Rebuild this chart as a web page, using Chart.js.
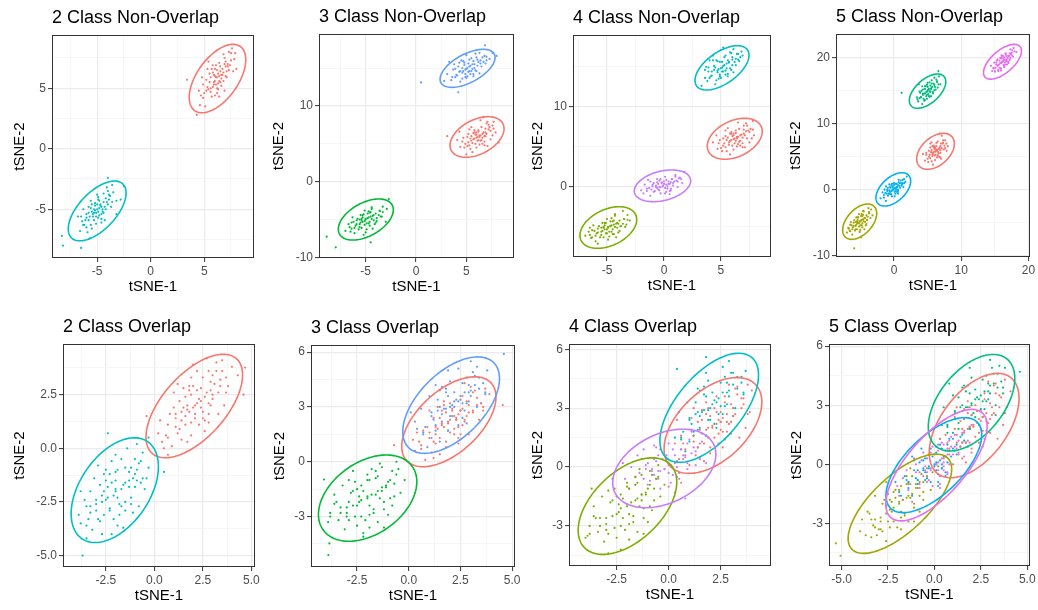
<!DOCTYPE html>
<html lang="en">
<head>
<meta charset="UTF-8">
<title>tSNE class separation</title>
<script src="https://cdn.jsdelivr.net/npm/chart.js"></script>
<style>
  html, body { margin: 0; padding: 0; background: #fff; width: 1038px; height: 610px; overflow: hidden; position: relative; }
  canvas { position: absolute; }
</style>
</head>
<body>
<script>
// ggplot hue colours
const RED = '#F8766D', CYAN = '#00BFC4', GREEN3 = '#00BA38', BLUE3 = '#619CFF';
const OLIVE4 = '#7CAE00', PURPLE4 = '#C77CFF';
const OLIVE5 = '#A3A500', GREEN5 = '#00BF7D', BLUE5 = '#00B0F6', PINK5 = '#E76BF3';
const FONT = '"Liberation Sans", Arial, sans-serif';

// ---- axis ranges [xmin, xmax, ymin, ymax]
const rngN2 = [-9.22, 9.65, -9.03, 9.40];
const rngN3 = [-9.63, 9.73, -10.07, 19.49];
const rngN4 = [-7.98, 9.39, -8.87, 18.98];
const rngN5 = [-8.62, 20.22, -10.21, 23.63];
const rngO2 = [-4.71, 5.19, -5.53, 4.86];
const rngO3 = [-4.73, 5.14, -5.76, 6.39];
const rngO4 = [-4.79, 4.92, -5.04, 6.27];
const rngO5 = [-5.68, 5.15, -5.16, 6.11];

// ---- tick values and labels
const ticksA = [-5, 0, 5], labelsA = ['-5', '0', '5'];
const ticksY2 = [-10, 0, 10], labelsY2 = ['-10', '0', '10'];
const ticksY3 = [0, 10], labelsY3 = ['0', '10'];
const ticksX4 = [0, 10, 20], labelsX4 = ['0', '10', '20'];
const ticksY4 = [-10, 0, 10, 20], labelsY4 = ['-10', '0', '10', '20'];
const ticksX5 = [-2.5, 0, 2.5, 5], labelsX5 = ['-2.5', '0.0', '2.5', '5.0'];
const ticksY5 = [-5, -2.5, 0, 2.5], labelsY5 = ['-5.0', '-2.5', '0.0', '2.5'];
const ticksY6 = [-3, 0, 3, 6], labelsY6 = ['-3', '0', '3', '6'];
const ticksX7 = [-2.5, 0, 2.5], labelsX7 = ['-2.5', '0.0', '2.5'];
const ticksX8 = [-5, -2.5, 0, 2.5, 5], labelsX8 = ['-5.0', '-2.5', '0.0', '2.5', '5.0'];

// ---- ellipses per class: [cx, cy, half-width x, half-height y, tilt]
const ellN2 = [[6.24, 5.80, 2.64, 2.83, 0.55], [-5.0, -5.14, 2.70, 2.47, 0.6]];
const ellN3 = [[6.06, 5.90, 2.68, 2.68, 0.41], [-4.98, -4.99, 2.73, 2.71, 0.47], [5.12, 14.96, 2.73, 2.51, 0.57]];
const ellN4 = [[6.21, 5.96, 2.41, 2.57, 0.36], [-4.88, -5.17, 2.49, 2.61, 0.38], [5.09, 14.86, 2.37, 2.78, 0.57], [-0.13, 0.06, 2.47, 1.99, 0.32]];
const ellN5 = [[6.17, 5.83, 2.8, 2.73, 0.42], [-5.1, -4.85, 2.53, 2.68, 0.47], [4.99, 14.96, 2.71, 2.6, 0.55], [-0.1, 0.05, 2.58, 2.53, 0.5], [16.13, 19.42, 2.82, 2.64, 0.62]];
const ellO2 = [[2.06, 1.97, 2.49, 2.41, 0.6], [-2.04, -1.95, 2.25, 2.44, 0.45]];
const ellO3 = [[1.94, 2.19, 2.28, 2.46, 0.55], [-1.99, -1.99, 2.38, 2.36, 0.38], [2.05, 3.1, 2.34, 2.64, 0.55]];
const ellO4 = [[2.13, 2.12, 2.35, 2.44, 0.49], [-1.98, -1.99, 2.37, 2.46, 0.5], [1.95, 3.02, 2.37, 2.78, 0.6], [-0.21, -0.07, 2.48, 2.0, 0.36]];
const ellO5 = [[2.14, 1.97, 2.42, 2.65, 0.52], [-1.86, -2.0, 2.79, 2.52, 0.7], [2.0, 3.13, 2.33, 2.45, 0.5], [-0.03, -0.04, 2.58, 2.41, 0.64], [0.11, -0.04, 2.73, 2.83, 0.7]];

// ---- points: 2 class non-overlap
const n2Red = [[6.2,5.9],[6.5,6.4],[5.8,5.1],[7.0,6.8],[5.4,4.9],[6.8,5.6],[7.5,7.9],[4.9,4.2],[6.0,6.6],[6.6,5.2],[5.2,5.7],[7.3,6.5],[6.4,7.1],[5.7,4.3],[7.8,7.4],[4.6,3.6],[6.9,7.5],[5.9,5.5],[6.3,4.9],[5.5,6.2],[7.1,5.9],[6.1,6.9],[4.9,5.3],[7.6,8.3],[5.1,3.5],[6.7,6.1],[8.0,6.6],[5.6,4.7],[6.4,5.6],[7.2,7.0],[4.5,4.8],[3.4,5.7],[4.3,2.8],[6.0,4.4],[7.9,7.9],[5.3,6.6],
  [6.3,6.2],[6.6,5.8],[5.9,6.1],[6.8,6.3],[6.1,5.3],[6.5,6.8],[5.6,5.9],[7.0,7.2],[6.2,5.0],[5.8,6.9],[7.4,6.9],[6.9,4.8],[5.0,4.6],[7.7,6.4],[6.4,4.3],[5.4,7.2],[4.8,5.9],[7.3,8.0],
  [6.0,5.6],[6.4,6.0],[6.7,6.6],[5.9,5.3],[6.2,6.5],[6.6,6.1],[5.6,5.0],[7.1,6.4],[6.3,5.4],[5.5,5.5],[6.9,7.0],[6.1,5.9],[5.8,6.3],[7.2,6.8],[6.5,5.5],[5.2,4.8],[7.5,7.3],[6.0,6.0],[4.7,4.4],[6.8,7.8],[5.3,5.1],[7.0,6.0],[6.2,4.6],[5.7,6.6]];
const n2Cyan = [[-5.0,-5.0],[-4.6,-4.8],[-5.4,-5.6],[-4.2,-4.1],[-5.8,-5.9],[-4.8,-5.5],[-5.2,-4.5],[-3.8,-3.9],[-6.2,-6.3],[-4.5,-5.2],[-5.6,-4.9],[-4.0,-4.6],[-6.0,-5.4],[-3.5,-3.6],[-6.6,-6.8],[-5.1,-6.2],[-4.4,-3.7],[-5.5,-6.6],[-3.2,-4.3],[-6.8,-5.6],[-4.9,-4.2],[-5.9,-6.9],[-3.6,-3.0],[-4.3,-5.9],[-6.3,-5.0],[-5.3,-5.3],[-4.7,-4.6],[-8.3,-7.2],[-8.2,-8.0],[-6.5,-8.2],[-4.0,-2.4],[-2.5,-3.1],[-2.8,-4.2],[-3.2,-5.4],[-5.7,-7.4],[-4.1,-3.2],
  [-5.1,-5.3],[-4.8,-4.9],[-5.3,-5.0],[-4.6,-5.4],[-5.5,-5.2],[-4.9,-5.7],[-5.2,-4.7],[-4.4,-4.4],[-5.8,-5.3],[-4.2,-5.0],[-6.1,-5.9],[-3.9,-4.2],[-5.6,-4.3],[-4.6,-6.1],[-6.4,-6.0],[-3.7,-4.8],[-5.0,-3.8],[-6.0,-6.5],
  [-5.2,-5.1],[-4.9,-5.2],[-4.7,-4.7],[-5.4,-5.4],[-5.0,-4.6],[-4.5,-5.0],[-5.7,-5.6],[-4.3,-4.8],[-5.3,-5.9],[-4.8,-4.3],[-6.0,-5.7],[-4.1,-4.4],[-5.5,-4.6],[-4.6,-5.8],[-6.3,-6.3],[-3.9,-3.8],[-5.1,-5.6],[-4.4,-5.3],[-5.8,-4.8],[-4.9,-4.0],[-6.5,-5.6],[-3.6,-4.4],[-5.6,-6.3],[-4.0,-3.5]];

// ---- 3 class non-overlap
const n3Red = [[6.1,5.9],[6.6,6.3],[5.5,5.4],[7.2,6.9],[4.9,5.0],[6.8,5.3],[5.8,6.8],[7.6,7.4],[4.4,4.6],[6.3,4.9],[5.2,6.3],[7.0,7.7],[5.9,5.0],[6.5,7.2],[4.7,5.8],[7.9,6.5],[5.4,4.3],[6.9,6.0],[6.0,6.5],[5.1,4.7],[7.4,5.6],[4.1,5.5],[6.4,8.1],[5.6,3.9],[7.7,7.9],[3.1,6.0],[8.2,5.2],[6.2,5.5],[5.0,3.6],[7.1,4.7],[4.3,6.6],[6.7,8.5],
  [6.3,6.1],[5.8,5.7],[6.6,5.8],[5.5,6.0],[6.9,6.5],[6.0,6.2],[5.2,5.2],[7.3,7.2],[6.4,5.4],[5.7,6.4],[7.6,6.1],[4.8,4.5],[6.2,6.8],[6.8,4.8],[5.3,6.9],[7.1,7.9],
  [6.0,5.8],[6.4,6.1],[5.7,5.6],[6.7,6.5],[5.9,6.2],[6.5,5.5],[5.4,5.7],[7.0,6.3],[6.2,6.6],[5.6,5.1],[6.9,7.0],[6.1,5.4],[5.1,5.9],[7.4,6.7],[6.3,5.9],[5.8,6.5],[6.6,5.0],[5.3,4.8],[7.2,7.5],[6.8,6.0],[4.6,5.3],[7.7,7.0],[6.0,4.5],[5.5,7.2]];
const n3Green = [[-5.0,-5.0],[-4.5,-4.6],[-5.5,-5.4],[-4.0,-4.2],[-6.0,-5.8],[-4.7,-5.5],[-5.3,-4.4],[-3.6,-3.9],[-6.4,-6.2],[-4.2,-5.1],[-5.8,-4.9],[-3.3,-3.3],[-6.7,-5.6],[-4.9,-6.3],[-5.1,-3.8],[-3.9,-5.2],[-6.1,-6.8],[-4.4,-3.6],[-5.6,-6.0],[-2.9,-3.6],[-7.0,-6.5],[-4.6,-4.1],[-5.4,-5.1],[-3.5,-4.6],[-6.3,-4.7],[-8.87,-7.26],[-7.97,-8.66],[-2.7,-2.3],[-4.5,-8.0],[-5.2,-7.0],[-3.0,-5.3],
  [-5.1,-5.2],[-4.8,-4.8],[-5.3,-4.7],[-4.6,-5.3],[-5.6,-5.6],[-4.3,-4.5],[-5.9,-5.1],[-4.1,-5.6],[-5.4,-6.1],[-4.7,-3.9],[-6.2,-5.3],[-3.7,-4.4],[-5.0,-6.7],[-4.4,-3.4],[-6.5,-6.6],[-3.3,-4.0],
  [-5.0,-4.9],[-4.7,-4.7],[-5.3,-5.3],[-4.4,-4.9],[-5.6,-5.0],[-4.9,-5.5],[-5.2,-4.3],[-4.2,-4.4],[-5.9,-5.6],[-4.6,-5.8],[-5.4,-4.9],[-3.9,-4.8],[-6.1,-6.1],[-4.8,-4.2],[-5.7,-6.3],[-3.6,-3.8],[-5.1,-5.7],[-4.5,-4.0],[-6.4,-5.4],[-4.0,-5.4],[-5.5,-4.4],[-3.4,-4.6],[-6.6,-6.0],[-4.3,-6.2]];
const n3Blue = [[5.1,15.0],[5.6,15.5],[4.6,14.4],[6.2,15.8],[4.0,14.1],[5.9,14.7],[6.8,16.6],[3.5,13.4],[5.3,16.1],[4.8,15.4],[6.5,15.2],[4.2,15.2],[5.7,13.9],[3.1,14.2],[7.3,16.2],[4.4,13.2],[5.0,16.7],[6.0,16.4],[3.8,15.5],[5.4,14.2],[6.9,15.6],[4.9,13.8],[2.8,13.3],[7.6,17.0],[5.8,15.0],[4.5,16.0],[0.5,13.1],[4.2,11.8],[6.85,18.0],[8.0,16.6],[3.3,15.8],[6.3,14.3],
  [5.3,15.2],[4.9,14.8],[5.7,15.9],[4.6,15.0],[6.1,15.3],[5.2,14.5],[4.3,14.5],[6.4,16.0],[5.5,14.6],[4.7,15.9],[6.7,15.8],[3.9,13.8],[5.9,16.9],[5.0,13.7],[7.0,16.5],[3.7,14.8],
  [5.0,14.9],[5.4,15.3],[4.7,14.6],[5.8,15.5],[5.2,15.6],[4.9,14.2],[6.1,16.1],[4.4,14.6],[5.6,14.9],[4.8,15.7],[6.4,15.6],[5.3,14.6],[4.1,14.0],[6.6,16.4],[5.5,16.3],[4.6,13.6],[6.0,14.6],[3.9,14.9],[7.0,16.0],[5.1,13.9],[4.3,15.7],[6.3,17.0],[3.6,13.8],[5.7,14.2]];

// ---- 4 class non-overlap
const n4Red = [[6.2,6.0],[6.7,6.4],[5.7,5.5],[7.2,6.9],[5.2,5.1],[6.9,5.4],[5.9,6.8],[7.6,7.2],[4.7,4.7],[6.4,5.0],[5.4,6.3],[7.0,7.6],[6.0,5.1],[6.6,7.2],[4.9,5.8],[7.9,6.4],[5.5,4.4],[7.3,6.0],[6.1,6.6],[5.1,4.4],[7.5,5.5],[4.3,5.5],[6.5,8.0],[5.8,4.0],[7.8,8.2],[6.3,5.7],[7.1,4.9],[4.6,6.4],
  [6.4,6.2],[5.9,5.8],[6.7,5.7],[5.6,6.1],[7.0,6.6],[6.1,6.4],[5.3,5.4],[7.4,7.0],[6.5,5.3],[5.8,6.6],[7.7,6.0],[5.0,4.8],[6.3,7.0],[6.9,4.9],[5.4,7.0],[7.2,7.9],
  [6.1,5.9],[6.5,6.2],[5.8,5.7],[6.8,6.5],[6.0,6.3],[6.6,5.6],[5.5,5.8],[7.1,6.4],[6.3,6.7],[5.7,5.2],[7.0,7.1],[6.2,5.4],[5.2,6.0],[7.5,6.8],[6.4,6.0],[5.9,6.6],[6.7,5.1],[5.4,4.9],[7.3,7.6],[6.9,6.1],[4.8,5.4],[7.8,7.1],[6.1,4.6],[5.6,7.3]];
const n4Olive = [[-4.9,-5.2],[-4.4,-4.8],[-5.4,-5.6],[-3.9,-4.3],[-5.9,-5.9],[-4.6,-5.7],[-5.2,-4.6],[-3.5,-4.1],[-6.3,-6.4],[-4.1,-5.2],[-5.7,-5.0],[-3.2,-3.6],[-6.6,-5.7],[-4.8,-6.3],[-5.0,-4.1],[-3.8,-5.0],[-6.0,-6.9],[-4.3,-3.7],[-5.5,-6.1],[-3.0,-4.3],[-6.9,-6.2],[-4.5,-4.4],[-5.3,-5.2],[-3.6,-3.1],[-6.2,-4.9],[-4.7,-5.0],[-5.1,-5.9],[-4.0,-4.7],[-5.8,-7.2],[-3.4,-5.1],[-6.5,-5.2],[-4.4,-6.0],
  [-5.0,-5.4],[-4.7,-5.0],[-5.2,-4.9],[-4.5,-5.4],[-5.5,-5.7],[-4.2,-4.7],[-5.8,-5.3],[-4.0,-5.8],[-5.3,-6.4],[-4.6,-4.0],[-6.1,-5.6],[-3.6,-4.7],[-4.9,-6.7],[-4.3,-3.5],[-6.4,-6.5],[-3.2,-4.2],
  [-4.9,-5.1],[-4.6,-4.9],[-5.2,-5.4],[-4.3,-5.1],[-5.5,-5.2],[-4.8,-5.7],[-5.1,-4.6],[-4.1,-4.6],[-5.8,-5.8],[-4.5,-6.0],[-5.3,-5.1],[-3.8,-5.0],[-6.0,-6.2],[-4.7,-4.4],[-5.6,-6.4],[-3.5,-4.1],[-5.0,-5.9],[-4.4,-4.3],[-6.3,-5.5],[-3.9,-5.6],[-5.4,-4.6],[-3.3,-4.8],[-6.5,-6.1],[-4.2,-6.4]];
const n4Cyan = [[5.1,14.9],[5.5,15.4],[4.7,14.3],[6.0,15.9],[4.2,13.9],[5.8,14.8],[6.4,16.6],[3.8,13.2],[5.3,16.2],[4.9,15.6],[6.3,15.2],[4.4,15.1],[5.6,13.8],[3.6,14.6],[6.8,16.9],[4.5,12.8],[5.0,17.1],[5.9,16.7],[4.0,15.8],[5.4,14.0],[6.6,15.7],[4.8,13.5],[3.3,12.6],[5.2,17.4],[6.1,14.3],[4.3,16.4],[5.7,15.6],[3.9,14.4],
  [5.2,15.1],[4.8,14.7],[5.6,15.8],[4.5,14.9],[6.0,15.2],[5.1,14.4],[4.2,14.4],[6.3,16.0],[5.4,14.5],[4.6,15.8],[6.5,15.9],[4.0,13.6],[5.8,16.8],[4.9,13.8],[6.9,16.4],[3.7,15.0],
  [5.0,14.8],[5.3,15.2],[4.7,14.5],[5.7,15.5],[5.1,15.6],[4.9,14.0],[6.0,16.2],[4.4,14.6],[5.5,14.8],[4.7,15.7],[6.2,15.6],[5.2,14.4],[4.1,13.8],[6.5,16.6],[5.4,16.4],[4.6,13.3],[5.9,14.6],[3.9,14.9],[6.7,16.2],[5.0,13.6],[4.3,15.8],[6.1,17.2],[3.6,13.6],[5.6,14.1]];
const n4Purple = [[-0.1,0.1],[0.4,0.3],[-0.6,-0.2],[0.9,0.6],[-1.1,-0.4],[0.6,-0.3],[-0.4,0.7],[1.3,1.0],[-1.5,-0.6],[0.2,-0.7],[-0.9,0.4],[1.0,1.4],[-0.3,-0.9],[0.7,0.9],[-1.7,0.2],[1.6,0.4],[-1.2,-1.2],[0.1,1.2],[-0.7,-0.1],[1.8,1.8],[-2.0,-0.5],[0.5,-1.0],[-0.2,0.5],[1.2,-0.1],[-1.4,0.8],
  [0.0,0.3],[-0.3,-0.1],[0.3,0.0],[-0.5,0.3],[0.6,0.5],[-0.8,-0.6],[0.8,0.1],[-1.0,0.0],[0.2,0.8],[-0.4,-0.5],[1.1,0.7],[-1.3,-0.2],[0.5,-0.6],[-0.6,0.9],[1.4,1.1],[-1.8,-0.9],
  [-0.1,0.0],[0.2,0.2],[-0.4,-0.1],[0.5,0.3],[-0.2,0.4],[0.3,-0.3],[-0.7,0.1],[0.8,0.4],[0.0,0.6],[-0.5,-0.4],[0.7,0.9],[0.1,-0.2],[-1.0,0.2],[1.2,0.6],[0.4,0.6],[-0.3,0.9],[0.6,-0.5],[-0.9,-0.7],[1.0,1.2],[-0.6,0.5],[-1.5,-0.3],[1.5,0.9],[0.1,-0.9],[-1.2,0.6]];

// ---- 5 class non-overlap
const n5Red = [[6.2,5.8],[6.7,6.2],[5.7,5.4],[7.2,7.0],[5.2,5.0],[6.9,5.6],[5.9,6.7],[7.6,7.5],[4.6,4.4],[6.4,4.9],[5.4,6.4],[7.1,8.2],[6.0,5.2],[6.5,7.3],[4.8,5.6],[8.0,6.6],[5.6,4.3],[7.4,6.1],[6.1,6.5],[5.1,4.2],[7.8,5.9],[4.3,5.4],[6.8,8.5],[5.8,3.8],[6.3,6.0],[7.0,4.7],
  [6.3,6.1],[5.9,5.7],[6.6,5.7],[5.6,6.0],[6.9,6.6],[6.1,6.3],[5.3,5.3],[7.3,7.1],[6.5,5.2],[5.7,6.6],[7.6,6.3],[5.0,4.7],[6.3,7.1],[6.9,4.9],[5.4,7.0],
  [6.1,5.8],[6.5,6.1],[5.8,5.6],[6.8,6.4],[6.0,6.2],[6.6,5.5],[5.5,5.7],[7.1,6.3],[6.3,6.6],[5.7,5.1],[7.0,7.0],[6.2,5.3],[5.2,5.9],[7.5,6.7],[6.4,5.9],[5.9,6.5],[6.7,5.0],[5.4,4.8],[7.3,7.5],[6.9,6.0],[4.8,5.3],[7.8,7.0],[6.1,4.5],[5.6,7.2]];
const n5Olive = [[-5.1,-4.9],[-4.6,-4.5],[-5.6,-5.3],[-4.1,-3.9],[-6.1,-5.7],[-4.8,-5.4],[-5.4,-4.2],[-3.7,-3.4],[-6.5,-6.3],[-4.3,-4.9],[-5.9,-4.6],[-3.4,-3.0],[-6.8,-5.8],[-5.0,-6.1],[-5.2,-3.7],[-4.0,-4.6],[-6.2,-6.8],[-4.5,-3.3],[-5.7,-6.0],[-3.2,-3.9],[-7.0,-6.5],[-4.7,-4.0],[-5.5,-5.0],[-3.8,-2.8],[-6.4,-4.9],[-5.92,-8.9],[-4.9,-7.2],
  [-5.2,-5.1],[-4.9,-4.7],[-5.4,-4.6],[-4.7,-5.1],[-5.7,-5.5],[-4.4,-4.3],[-6.0,-5.0],[-4.2,-5.4],[-5.5,-6.0],[-4.8,-3.7],[-6.3,-5.4],[-3.9,-4.1],[-5.1,-6.4],[-4.6,-3.2],[-6.6,-6.2],
  [-5.1,-4.8],[-4.8,-4.6],[-5.4,-5.1],[-4.5,-4.8],[-5.7,-4.9],[-5.0,-5.4],[-5.3,-4.2],[-4.3,-4.3],[-6.0,-5.5],[-4.7,-5.7],[-5.5,-4.8],[-4.0,-4.6],[-6.2,-6.0],[-4.9,-4.0],[-5.8,-6.2],[-3.7,-3.6],[-5.2,-5.6],[-4.6,-3.8],[-6.5,-5.3],[-4.1,-5.2],[-5.6,-4.2],[-3.5,-4.3],[-6.7,-5.9],[-4.4,-6.0]];
const n5Green = [[5.0,15.0],[5.5,15.3],[4.5,14.6],[6.0,15.9],[4.0,14.1],[5.8,14.8],[4.7,15.7],[6.4,16.4],[3.6,13.4],[5.2,14.2],[4.3,15.2],[6.2,15.2],[5.0,16.2],[3.9,14.7],[6.7,17.2],[4.6,13.6],[5.6,16.6],[3.4,14.0],[6.9,16.0],[4.9,14.4],[5.4,15.8],[4.2,13.0],[6.6,18.0],[3.7,16.0],[1.14,14.7],[5.3,14.9],
  [5.1,15.2],[4.8,14.8],[5.4,14.9],[4.6,15.3],[5.7,15.6],[4.3,14.4],[6.0,15.1],[4.9,15.9],[5.3,14.1],[4.1,15.0],[6.3,16.7],[5.6,16.1],[4.4,13.8],[6.5,15.5],[3.8,13.9],
  [4.9,14.9],[5.2,15.3],[4.6,14.6],[5.6,15.5],[5.0,15.6],[4.8,14.2],[5.9,16.1],[4.3,14.6],[5.4,14.9],[4.6,15.7],[6.1,15.6],[5.1,14.5],[4.0,14.0],[6.4,16.4],[5.3,16.3],[4.5,13.5],[5.8,14.6],[3.8,14.9],[6.6,16.0],[4.9,13.8],[4.2,15.7],[6.0,17.0],[3.5,13.7],[5.5,14.2]];
const n5Blue = [[-0.1,0.1],[0.4,0.4],[-0.6,-0.3],[0.9,1.0],[-1.1,-0.6],[0.6,0.0],[-0.4,0.7],[1.3,1.5],[-1.5,-1.2],[0.2,-0.6],[-0.9,0.3],[1.1,0.6],[-0.3,-1.0],[0.7,1.5],[-1.7,-0.4],[1.7,1.2],[-1.2,-1.7],[0.0,1.0],[-0.7,-0.6],[1.9,2.0],[-2.0,-1.3],[0.5,-0.4],[-0.2,0.4],[1.4,0.4],[-1.4,0.0],
  [0.0,0.2],[-0.3,-0.1],[0.3,0.1],[-0.5,0.3],[0.6,0.7],[-0.8,-0.6],[0.9,0.3],[-1.0,0.0],[0.2,0.9],[-0.4,-0.7],[1.2,1.0],[-1.3,-0.5],[0.6,-0.2],[-0.7,0.8],[1.5,1.6],
  [-0.1,0.0],[0.2,0.3],[-0.4,-0.2],[0.5,0.4],[-0.2,0.5],[0.3,-0.2],[-0.7,-0.1],[0.8,0.6],[0.0,0.7],[-0.5,-0.6],[0.7,1.1],[0.1,-0.3],[-1.0,-0.2],[1.2,0.8],[0.4,0.9],[-0.3,0.9],[0.6,-0.6],[-0.9,-0.9],[1.0,1.4],[-0.6,0.4],[-1.5,-0.8],[1.5,1.0],[0.1,-1.0],[-1.2,0.5]];
const n5Pink = [[16.1,19.4],[16.6,19.6],[15.6,19.0],[17.1,20.3],[15.1,18.5],[16.8,19.0],[15.8,20.0],[17.5,20.8],[14.6,18.0],[16.4,18.6],[15.3,19.6],[17.3,20.0],[16.0,20.4],[15.0,17.9],[17.8,21.5],[16.6,20.6],[14.4,18.8],[17.0,19.4],[15.5,18.2],[18.2,20.9],[16.3,19.9],[14.9,19.3],[17.6,21.2],[15.9,18.4],
  [16.2,19.5],[15.9,19.2],[16.5,19.3],[15.7,19.6],[16.9,20.0],[15.4,18.8],[17.2,19.7],[16.0,20.1],[16.4,18.7],[15.2,19.0],[17.4,20.6],[16.7,20.3],[15.5,18.0],[17.7,20.2],[14.8,18.4],
  [16.1,19.4],[16.4,19.7],[15.8,19.2],[16.7,19.8],[16.0,19.9],[16.3,18.9],[15.5,18.9],[17.0,20.3],[16.2,20.3],[15.7,18.5],[17.2,20.7],[16.5,19.0],[15.2,19.3],[17.5,20.4],[16.6,20.7],[15.9,18.1],[17.0,19.2],[14.8,18.5],[17.9,21.0],[16.8,19.5],[15.4,19.8],[17.3,21.3],[15.0,18.0],[16.4,20.1]];

// ---- 2 class overlap
const o2Red = [[2.1,2.0],[2.6,2.4],[1.6,1.5],[3.1,3.0],[1.1,1.0],[2.8,1.6],[1.8,2.7],[3.5,3.6],[0.6,0.6],[2.3,1.1],[1.3,2.2],[3.2,4.0],[1.9,1.2],[2.5,3.3],[0.8,1.6],[3.8,2.9],[1.4,0.4],[3.0,2.3],[2.0,2.9],[0.9,0.1],[3.6,2.0],[0.3,1.3],[2.7,4.2],[1.7,0.3],[4.0,3.8],[2.4,1.9],[3.3,1.6],[1.0,2.6],[2.2,3.6],[1.5,1.9],[2.9,2.7],[0.5,0.0],[4.3,3.4],[1.2,3.0],[2.6,0.8],[3.4,3.2],[1.8,1.7],[0.2,0.7],[2.0,3.9],[4.68,3.76],[4.6,2.5],[-0.4,1.5],[0.7,-0.3],
  [2.2,2.1],[1.7,2.0],[2.9,2.0],[1.4,1.3],[3.3,2.6],[2.1,1.6],[1.0,1.9],[2.8,3.6],[0.7,1.1],[3.7,3.3],[1.9,3.3],[2.5,1.4],[1.6,2.4],[3.0,3.4],[0.4,0.3],[2.4,2.8],[1.2,0.7],[3.5,4.1],[2.8,1.2],[1.1,1.6],
  [2.0,1.9],[2.4,2.2],[1.7,1.8],[2.7,2.6],[1.9,2.5],[2.5,1.7],[1.4,1.7],[3.0,2.5],[2.2,2.7],[1.6,1.1],[2.9,3.1],[2.1,1.4],[1.1,1.4],[3.4,2.9],[2.3,2.3],[1.8,2.9],[2.6,1.3],[1.3,0.9],[3.2,3.6],[2.8,2.1],[0.7,0.5],[3.7,2.6],[1.9,0.6],[1.5,2.8]];
const o2Cyan = [[-2.0,-2.0],[-1.5,-1.6],[-2.5,-2.4],[-1.0,-1.2],[-3.0,-2.9],[-1.8,-2.6],[-2.3,-1.2],[-0.7,-0.6],[-3.4,-3.3],[-1.2,-2.3],[-2.8,-1.7],[-0.5,-1.9],[-3.6,-2.4],[-2.1,-3.3],[-1.7,-0.5],[-1.1,-3.0],[-3.2,-3.8],[-1.4,0.0],[-2.6,-3.1],[-0.3,-0.9],[-3.9,-3.1],[-1.9,-1.0],[-2.4,-1.8],[-0.8,-2.7],[-3.1,-1.4],[-1.6,-3.7],[-2.9,-0.8],[-0.6,-0.2],[-2.2,-4.0],[-3.7,-5.0],[-2.4,0.7],[0.5,-1.1],[-1.3,-1.5],[-2.7,-2.2],[-0.9,0.2],[-3.3,-2.0],[-1.5,-2.9],[-2.0,-0.3],[-1.0,-1.8],[-3.5,-4.2],[-0.6,-1.4],[-0.3,0.5],
  [-2.1,-2.2],[-1.7,-1.9],[-2.6,-2.0],[-1.3,-1.1],[-3.0,-2.4],[-2.0,-1.5],[-1.5,-2.5],[-2.8,-3.4],[-0.9,-1.5],[-3.5,-3.6],[-2.3,-2.8],[-1.0,-0.5],[-2.5,-1.0],[-1.8,-3.1],[-3.3,-2.7],[-0.4,-1.4],[-2.7,-4.0],[-1.2,-0.9],[-3.8,-2.0],[-2.2,-0.6],
  [-2.0,-1.9],[-1.6,-1.7],[-2.4,-2.3],[-1.3,-1.8],[-2.7,-2.5],[-1.9,-2.3],[-2.2,-1.6],[-1.1,-1.4],[-3.0,-2.6],[-1.7,-2.7],[-2.5,-1.5],[-0.9,-1.0],[-3.3,-3.0],[-2.0,-1.1],[-2.9,-3.3],[-0.7,-1.6],[-2.3,-2.9],[-1.5,-0.9],[-3.5,-2.7],[-1.2,-2.6],[-2.6,-1.2],[-0.8,-0.7],[-3.8,-3.5],[-1.9,-3.6]];

// ---- 3 class overlap
const o3Red = [[1.9,2.2],[2.4,2.6],[1.4,1.8],[2.9,3.1],[1.0,1.3],[2.6,2.0],[1.6,2.8],[3.3,3.5],[0.6,0.9],[2.2,1.5],[1.2,2.4],[3.0,4.1],[1.8,1.1],[2.5,3.4],[0.4,1.6],[3.6,3.0],[1.1,0.5],[2.8,2.5],[2.0,3.2],[0.8,0.1],[3.4,2.3],[0.2,1.2],[2.7,4.3],[1.5,0.4],[3.9,3.7],[2.3,2.3],[1.3,1.5],[2.1,2.8],[-0.71,0.91],[4.55,3.1],[1.7,1.9],[3.1,2.8],[0.7,1.7],[2.4,1.3],
  [2.0,2.3],[1.6,2.1],[2.7,2.2],[1.3,1.0],[3.1,2.7],[2.2,1.8],[0.9,1.9],[2.6,3.6],[0.5,1.1],[3.5,3.2],[1.7,3.3],[2.4,1.0],[1.5,2.4],[3.2,3.9],[0.3,0.6],[2.5,2.8],[1.2,0.2],[3.7,4.0],[2.9,1.5],[1.0,2.8],
  [1.9,2.1],[2.3,2.4],[1.6,2.0],[2.6,2.9],[1.8,2.7],[2.4,1.9],[1.3,1.9],[2.9,2.7],[2.1,2.9],[1.5,1.3],[2.8,3.3],[2.0,1.6],[1.0,1.6],[3.3,3.1],[2.2,2.5],[1.7,3.1],[2.5,1.5],[1.2,1.1],[3.1,3.8],[2.7,2.3],[0.6,0.7],[3.6,2.8],[1.8,0.8],[1.4,3.0]];
const o3Green = [[-2.0,-2.0],[-1.5,-1.6],[-2.5,-2.4],[-1.0,-1.1],[-3.0,-2.8],[-1.7,-2.6],[-2.3,-1.3],[-0.6,-0.7],[-3.4,-3.2],[-1.2,-2.2],[-2.8,-1.7],[-0.4,-1.7],[-3.6,-2.3],[-2.1,-3.2],[-1.6,-0.5],[-1.0,-2.9],[-3.1,-3.7],[-1.4,-0.1],[-2.6,-3.0],[-0.2,-1.0],[-3.8,-2.8],[-1.9,-1.0],[-2.4,-1.9],[-0.8,-2.4],[-3.2,-1.3],[-1.5,-3.3],[-2.7,-0.5],[-0.6,0.0],[-2.2,-3.9],[-3.89,-5.11],[-3.84,-4.47],[-4.1,-0.97],[-1.3,-1.4],[-2.9,-2.2],[-1.8,-0.4],
  [-1.8,-1.8],[-2.3,-2.1],[-1.4,-2.0],[-2.7,-1.6],[-1.1,-1.4],[-3.3,-2.5],[-1.9,-2.9],[-0.7,-1.2],[-2.5,-3.5],[-1.6,-0.9],[-3.0,-3.0],[-0.5,-0.4],[-2.0,-0.7],[-1.2,-3.6],[-3.6,-1.8],[-2.9,-1.0],[-0.9,-2.0],[-2.2,-4.1],[-1.3,-0.3],[-3.9,-3.3],
  [-2.0,-1.9],[-1.6,-1.8],[-2.4,-2.2],[-1.3,-1.6],[-2.7,-2.4],[-1.9,-2.4],[-2.2,-1.6],[-1.1,-1.3],[-3.0,-2.5],[-1.7,-2.8],[-2.5,-1.5],[-0.9,-1.0],[-3.3,-2.8],[-2.0,-1.0],[-2.9,-3.2],[-0.7,-1.9],[-2.3,-3.0],[-1.5,-0.8],[-3.5,-2.2],[-1.2,-2.6],[-2.6,-1.1],[-0.8,-0.5],[-3.8,-3.0],[-1.9,-3.6]];
const o3Blue = [[2.1,3.1],[2.5,3.6],[1.6,2.6],[3.0,3.9],[1.2,2.3],[2.7,2.8],[1.8,3.8],[3.4,4.6],[0.8,1.9],[2.3,2.3],[1.4,3.4],[3.1,4.9],[1.9,1.7],[2.6,4.3],[0.6,2.9],[3.7,3.8],[1.1,1.3],[2.9,3.3],[2.0,4.4],[0.9,0.8],[3.5,3.2],[0.3,2.2],[2.4,5.1],[1.5,1.1],[4.6,5.9],[3.3,5.2],[1.3,4.2],[2.8,2.1],[0.1,2.7],[2.2,3.0],
  [2.2,3.3],[1.8,2.9],[2.6,3.2],[1.5,3.0],[3.2,4.2],[2.0,2.5],[1.1,2.7],[2.8,4.6],[0.7,1.5],[3.6,4.3],[1.6,4.1],[2.4,2.0],[1.0,3.6],[3.8,5.0],[0.4,1.8],[2.9,3.8],[1.3,1.7],[3.0,5.5],[3.3,3.0],[1.9,5.0],
  [2.0,3.0],[2.4,3.3],[1.7,2.9],[2.7,3.8],[1.9,3.6],[2.5,2.8],[1.4,2.8],[3.0,3.6],[2.2,3.8],[1.6,2.2],[2.9,4.2],[2.1,2.5],[1.1,2.5],[3.4,4.0],[2.3,3.4],[1.8,4.0],[2.6,2.4],[1.3,2.0],[3.2,4.7],[2.8,3.2],[0.7,1.6],[3.7,3.7],[1.9,1.7],[1.5,3.9]];

// ---- 4 class overlap
const o4Red = [[2.1,2.1],[2.6,2.5],[1.6,1.7],[3.1,3.0],[1.2,1.3],[2.8,1.8],[1.8,2.7],[3.5,3.5],[0.8,0.9],[2.4,1.2],[1.4,2.3],[3.2,4.0],[2.0,1.0],[2.7,3.3],[0.6,1.6],[3.9,2.8],[1.5,0.5],[3.0,2.3],[2.2,3.0],[1.0,0.1],[3.7,2.0],[0.3,1.2],[2.9,4.2],[1.7,0.3],[4.0,3.9],[2.5,1.9],[3.4,1.5],[1.1,2.5],[2.3,3.6],[1.9,1.5],[0.4,2.4],[3.6,3.2],
  [2.3,2.2],[1.9,2.0],[2.8,2.3],[1.5,1.2],[3.2,2.7],[2.4,1.7],[1.1,1.9],[2.7,3.6],[0.7,1.2],[3.6,3.5],[1.8,3.3],[2.6,1.0],[1.6,2.4],[3.3,4.1],[0.5,0.4],[2.5,2.8],[1.3,0.6],[3.8,4.2],[3.0,1.7],[1.2,3.0],
  [2.1,2.0],[2.5,2.3],[1.8,1.9],[2.8,2.7],[2.0,2.6],[2.6,1.8],[1.5,1.9],[3.1,2.6],[2.3,2.8],[1.7,1.2],[3.0,3.2],[2.2,1.5],[1.2,1.6],[3.5,3.0],[2.4,2.4],[1.9,3.0],[2.7,1.4],[1.4,1.0],[3.3,3.7],[2.9,2.2],[0.8,0.6],[3.8,2.7],[2.0,0.7],[1.6,2.9]];
const o4Olive = [[-2.0,-2.0],[-1.5,-1.6],[-2.5,-2.4],[-1.0,-1.1],[-3.0,-2.9],[-1.7,-2.5],[-2.3,-1.4],[-0.6,-0.6],[-3.4,-3.3],[-1.2,-2.1],[-2.8,-1.8],[-0.4,-1.5],[-3.6,-2.5],[-2.1,-3.2],[-1.6,-0.5],[-1.0,-2.8],[-3.1,-3.8],[-1.4,-0.1],[-2.6,-3.1],[-0.2,-0.9],[-3.8,-3.0],[-1.9,-1.1],[-2.4,-1.9],[-0.8,-2.2],[-3.2,-1.5],[-1.5,-3.3],[-2.7,-0.6],[-0.5,0.1],[-2.9,-4.4],[-3.7,-1.1],[-3.9,-3.5],[-1.3,-1.4],[-2.2,-2.6],[-0.9,-0.2],
  [-1.8,-1.8],[-2.3,-2.1],[-1.4,-2.0],[-2.7,-1.7],[-1.1,-1.4],[-3.3,-2.6],[-1.9,-2.9],[-0.7,-1.1],[-2.5,-3.6],[-1.6,-0.9],[-3.0,-3.2],[-0.5,-0.5],[-2.0,-0.8],[-1.2,-3.4],[-3.6,-2.0],[-2.9,-1.2],[-0.9,-2.0],[-2.3,-4.2],[-1.3,-0.4],[-4.0,-3.6],
  [-2.0,-1.9],[-1.6,-1.7],[-2.4,-2.3],[-1.3,-1.7],[-2.7,-2.5],[-1.9,-2.4],[-2.2,-1.6],[-1.1,-1.3],[-3.0,-2.6],[-1.7,-2.8],[-2.5,-1.5],[-0.9,-0.9],[-3.3,-3.0],[-2.0,-1.0],[-2.9,-3.4],[-0.7,-1.7],[-2.3,-3.0],[-1.5,-0.8],[-3.5,-2.6],[-1.2,-2.6],[-2.6,-1.1],[-0.8,-0.4],[-3.8,-3.4],[-1.9,-3.7]];
const o4Cyan = [[2.0,3.0],[2.4,3.5],[1.5,2.6],[2.9,3.9],[1.1,2.2],[2.6,2.7],[1.7,3.7],[3.3,4.6],[0.7,1.8],[2.2,2.2],[1.3,3.3],[3.0,4.8],[1.8,1.6],[2.5,4.3],[0.5,2.8],[3.6,3.7],[1.0,1.3],[2.8,3.2],[1.9,4.4],[0.8,0.8],[0.4,5.0],[1.8,5.6],[3.5,4.6],[2.6,5.1],[1.4,1.9],[3.1,2.6],
  [2.1,3.2],[1.7,2.9],[2.5,3.1],[1.4,2.8],[3.1,4.2],[1.9,2.4],[1.0,2.5],[2.7,4.6],[0.6,1.4],[3.5,4.3],[1.5,3.9],[2.3,2.0],[0.9,3.3],[3.7,4.9],[0.3,1.5],[2.8,3.8],[1.2,1.6],[2.9,5.4],[3.2,3.0],[1.8,4.8],
  [1.9,2.9],[2.3,3.3],[1.6,2.8],[2.6,3.8],[1.8,3.6],[2.4,2.7],[1.3,2.7],[2.9,3.6],[2.1,3.8],[1.5,2.0],[2.8,4.3],[2.0,2.4],[1.0,2.4],[3.3,4.0],[2.2,3.4],[1.7,4.1],[2.5,2.3],[1.2,1.8],[3.1,4.8],[2.7,3.1],[0.6,1.5],[3.6,3.8],[1.8,1.6],[1.4,4.0]];
const o4Purple = [[-0.2,-0.1],[0.3,0.2],[-0.7,-0.4],[0.8,0.5],[-1.2,-0.6],[0.5,-0.3],[-0.5,0.6],[1.2,1.0],[-1.6,-0.9],[0.1,-0.8],[-1.0,0.2],[1.0,1.4],[-0.4,-1.1],[0.6,0.9],[-1.8,0.0],[1.5,0.4],[-1.3,-1.4],[0.0,1.2],[-0.8,-0.2],[-2.1,-0.6],[0.4,-0.5],[-0.1,0.4],[1.3,0.1],[-1.5,0.6],[0.9,-0.1],[-0.6,1.0],[0.8,-1.6],[1.1,1.8],
  [0.0,0.1],[-0.4,-0.2],[0.4,0.0],[-0.6,0.3],[0.7,0.6],[-0.9,-0.7],[0.9,0.2],[-1.1,0.1],[0.2,0.9],[-0.5,-0.6],[1.3,0.8],[-1.4,-0.3],[0.6,-0.8],[-0.7,1.1],[1.6,1.3],[-1.9,-1.1],[0.3,-1.3],[-1.2,0.9],[1.8,0.2],[-2.2,0.2],
  [-0.2,-0.1],[0.1,0.1],[-0.5,-0.2],[0.4,0.3],[-0.3,0.4],[0.2,-0.4],[-0.8,-0.1],[0.7,0.4],[-0.1,0.6],[-0.6,-0.6],[0.6,0.9],[0.0,-0.3],[-1.1,-0.1],[1.1,0.7],[0.3,0.6],[-0.4,0.9],[0.5,-0.6],[-1.0,-0.9],[0.9,1.2],[-0.7,0.4],[-1.6,-0.5],[1.4,1.0],[0.0,-1.0],[-1.3,0.4]];

// ---- 5 class overlap
const o5Red = [[2.1,2.0],[2.6,2.4],[1.6,1.6],[3.1,2.9],[1.2,1.1],[2.8,1.7],[1.8,2.6],[3.5,3.5],[0.8,0.8],[2.4,1.1],[1.4,2.2],[3.2,4.0],[2.0,0.8],[2.7,3.3],[0.6,1.5],[3.9,2.9],[1.5,0.3],[3.0,2.3],[2.2,3.0],[1.0,0.0],[3.7,2.0],[0.3,1.3],[2.9,4.2],[1.7,0.1],[4.1,3.7],[2.5,1.8],[3.4,1.3],[1.1,2.4],
  [2.3,2.1],[1.9,1.9],[2.8,2.2],[1.5,1.1],[3.2,2.6],[2.4,1.6],[1.1,1.8],[2.7,3.6],[0.7,1.1],[3.6,3.4],[1.8,3.2],[2.6,0.9],[1.6,2.3],[3.3,4.1],[0.5,0.3],[2.5,2.7],[1.3,0.5],[3.8,4.3],[3.0,1.6],[1.2,2.9],
  [2.1,1.9],[2.5,2.2],[1.8,1.8],[2.8,2.6],[2.0,2.5],[2.6,1.7],[1.5,1.8],[3.1,2.5],[2.3,2.7],[1.7,1.1],[3.0,3.1],[2.2,1.4],[1.2,1.5],[3.5,2.9],[2.4,2.3],[1.9,2.9],[2.7,1.3],[1.4,0.9],[3.3,3.6],[2.9,2.1],[0.8,0.5],[3.8,2.6],[2.0,0.6],[1.6,2.8]];
const o5Olive = [[-1.9,-2.0],[-1.4,-1.6],[-2.4,-2.3],[-0.9,-1.2],[-2.9,-2.7],[-1.6,-2.5],[-2.2,-1.4],[-0.4,-0.6],[-3.3,-3.1],[-1.1,-2.0],[-2.7,-1.8],[-0.2,-1.3],[-3.6,-2.4],[-2.0,-3.2],[-1.5,-0.6],[-0.8,-2.4],[-3.1,-3.6],[-1.3,-0.2],[-2.5,-2.9],[-0.1,-0.4],[-3.9,-2.8],[-1.8,-1.1],[-2.3,-1.9],[-0.6,-1.8],[-3.2,-1.6],[-1.4,-2.9],[-2.6,-0.9],[-5.31,-4.01],[-5.06,-4.64],[-3.4,-3.7],[-2.9,-3.3],[0.2,-0.1],
  [-1.7,-1.8],[-2.2,-2.2],[-1.3,-1.7],[-2.6,-2.1],[-1.0,-1.0],[-3.2,-2.8],[-1.8,-2.7],[-0.6,-0.9],[-2.4,-3.2],[-1.5,-1.0],[-3.0,-3.3],[-0.4,-0.2],[-2.1,-1.3],[-1.1,-2.9],[-3.5,-2.5],[-2.8,-2.0],[-0.8,-1.6],[-2.6,-3.9],[-1.2,-0.6],[-4.0,-3.4],
  [-1.9,-1.9],[-1.5,-1.7],[-2.3,-2.4],[-1.2,-1.5],[-2.6,-2.5],[-1.8,-2.4],[-2.1,-1.7],[-1.0,-1.2],[-2.9,-2.9],[-1.6,-2.6],[-2.4,-1.8],[-0.8,-0.9],[-3.2,-3.2],[-1.9,-1.3],[-2.8,-3.4],[-0.6,-1.4],[-2.2,-2.9],[-1.4,-1.0],[-3.4,-2.8],[-1.1,-2.2],[-2.5,-1.5],[-0.7,-0.5],[-3.7,-3.6],[-1.8,-3.3]];
const o5Green = [[2.0,3.1],[2.5,3.5],[1.5,2.7],[3.0,4.0],[1.1,2.3],[2.7,2.8],[1.7,3.7],[3.4,4.6],[0.7,2.0],[2.2,2.4],[1.3,3.4],[3.1,4.9],[1.9,1.9],[2.6,4.3],[0.5,2.9],[3.7,3.9],[1.0,1.6],[2.9,3.3],[2.0,4.4],[0.8,4.1],[3.3,2.5],[0.3,1.3],[1.6,1.2],[3.8,4.9],[4.6,4.7],
  [2.2,3.3],[1.8,2.9],[2.6,3.2],[1.5,3.0],[3.2,4.1],[2.0,2.5],[1.1,2.7],[2.8,4.5],[0.7,1.6],[3.6,4.2],[1.6,4.0],[2.4,2.0],[1.0,3.5],[3.5,5.0],[0.4,2.0],[2.9,3.7],[1.3,1.8],[3.0,5.3],[3.3,3.0],[1.9,4.9],
  [2.0,3.0],[2.4,3.3],[1.7,2.9],[2.7,3.7],[1.9,3.6],[2.5,2.8],[1.4,2.9],[3.0,3.6],[2.2,3.8],[1.6,2.3],[2.9,4.1],[2.1,2.6],[1.1,2.6],[3.4,3.9],[2.3,3.4],[1.8,4.0],[2.6,2.4],[1.3,2.1],[3.2,4.6],[2.8,3.2],[0.7,1.9],[3.7,3.6],[1.9,1.8],[1.5,3.9]];
const o5Blue = [[0.0,0.0],[0.5,0.4],[-0.5,-0.4],[1.0,0.8],[-1.0,-0.7],[0.7,0.1],[-0.3,0.5],[1.4,1.4],[-1.4,-1.2],[0.2,-0.5],[-0.8,0.1],[1.2,0.5],[-0.2,-0.9],[0.8,1.3],[-1.6,-0.6],[1.7,1.1],[-1.2,-1.6],[0.1,0.9],[-0.6,-0.3],[1.9,1.8],[-1.9,-1.4],[0.4,-0.2],
  [0.1,0.1],[-0.3,-0.1],[0.4,0.0],[-0.6,0.2],[0.6,0.7],[-0.9,-0.8],[0.9,0.4],[-1.1,-0.3],[0.3,1.0],[-0.5,-0.8],[1.2,1.0],[-1.5,-0.8],[0.6,-0.6],[-0.7,0.8],[1.5,1.5],[-1.8,-1.6],[0.2,-1.1],[-1.2,0.4],[1.8,0.9],[-2.1,-0.9],
  [0.0,-0.1],[0.3,0.2],[-0.3,-0.2],[0.6,0.4],[-0.1,0.4],[0.4,-0.2],[-0.6,-0.2],[0.8,0.7],[0.1,0.6],[-0.4,-0.7],[0.7,1.0],[0.1,-0.3],[-0.9,-0.3],[1.1,0.7],[0.4,0.8],[-0.2,0.8],[0.6,-0.4],[-0.9,-1.0],[1.0,1.3],[-0.5,0.3],[-1.4,-0.9],[1.4,0.9],[0.2,-0.9],[-1.1,0.2]];
const o5Pink = [[0.1,0.0],[0.6,0.4],[-0.4,-0.4],[1.1,0.9],[-0.9,-0.8],[0.8,0.0],[-0.2,0.6],[1.5,1.6],[-1.4,-1.3],[0.3,-0.6],[-0.7,0.2],[1.3,0.6],[-0.1,-1.1],[0.9,1.4],[-1.7,-0.7],[1.8,1.2],[-1.2,-1.9],[0.2,1.0],[-0.6,-0.6],[2.0,2.0],[-1.9,-1.6],[0.5,-0.3],[-0.9,-2.3],[1.6,0.4],[-1.5,-0.3],
  [0.2,0.1],[-0.2,-0.2],[0.5,0.1],[-0.5,-0.1],[0.7,0.8],[-0.8,-1.0],[1.0,0.5],[-1.0,-0.4],[0.4,1.1],[-0.4,-0.9],[1.3,1.2],[-1.4,-0.9],[0.7,-0.5],[-0.6,0.6],[1.6,1.7],[-1.7,-1.8],[0.3,-1.2],[-1.1,0.3],[1.9,1.1],[-2.0,-1.1],
  [0.1,0.0],[0.4,0.3],[-0.2,-0.3],[0.7,0.5],[0.0,0.5],[0.5,-0.1],[-0.5,-0.3],[0.9,0.9],[0.2,0.7],[-0.3,-0.8],[0.8,1.2],[0.2,-0.3],[-0.8,-0.4],[1.2,0.8],[0.5,1.0],[-0.1,0.9],[0.7,-0.4],[-0.8,-1.2],[1.1,1.5],[-0.4,0.3],[-1.3,-1.0],[1.5,1.1],[0.3,-1.0],[-1.0,0.0]];

// ---- panel layout (plot area in page pixels: left, top, right, bottom; yTitle = x of the y axis title)
const panels = [
  { title: '2 Class Non-Overlap', box: [52, 35, 254, 258], yTitle: 20, rng: rngN2, xt: [ticksA, labelsA], yt: [ticksA, labelsA],
    sets: [[n2Red, RED], [n2Cyan, CYAN]], ell: ellN2 },
  { title: '3 Class Non-Overlap', box: [319, 34, 514, 258], yTitle: 279, rng: rngN3, xt: [ticksA, labelsA], yt: [ticksY2, labelsY2],
    sets: [[n3Red, RED], [n3Green, GREEN3], [n3Blue, BLUE3]], ell: ellN3 },
  { title: '4 Class Non-Overlap', box: [573, 35, 771, 257], yTitle: 538, rng: rngN4, xt: [ticksA, labelsA], yt: [ticksY3, labelsY3],
    sets: [[n4Red, RED], [n4Olive, OLIVE4], [n4Cyan, CYAN], [n4Purple, PURPLE4]], ell: ellN4 },
  { title: '5 Class Non-Overlap', box: [836, 34, 1030, 257], yTitle: 796, rng: rngN5, xt: [ticksX4, labelsX4], yt: [ticksY4, labelsY4],
    sets: [[n5Red, RED], [n5Olive, OLIVE5], [n5Green, GREEN5], [n5Blue, BLUE5], [n5Pink, PINK5]], ell: ellN5 },
  { title: '2 Class Overlap', box: [63, 344, 255, 567], yTitle: 20, rng: rngO2, xt: [ticksX5, labelsX5], yt: [ticksY5, labelsY5],
    sets: [[o2Red, RED], [o2Cyan, CYAN]], ell: ellO2 },
  { title: '3 Class Overlap', box: [311, 345, 515, 567], yTitle: 280, rng: rngO3, xt: [ticksX5, labelsX5], yt: [ticksY6, labelsY6],
    sets: [[o3Red, RED], [o3Green, GREEN3], [o3Blue, BLUE3]], ell: ellO3 },
  { title: '4 Class Overlap', box: [569, 344, 771, 566], yTitle: 538, rng: rngO4, xt: [ticksX7, labelsX7], yt: [ticksY6, labelsY6],
    sets: [[o4Red, RED], [o4Olive, OLIVE4], [o4Cyan, CYAN], [o4Purple, PURPLE4]], ell: ellO4 },
  { title: '5 Class Overlap', box: [829, 344, 1030, 566], yTitle: 797, rng: rngO5, xt: [ticksX8, labelsX8], yt: [ticksY6, labelsY6],
    sets: [[o5Red, RED], [o5Olive, OLIVE5], [o5Green, GREEN5], [o5Blue, BLUE5], [o5Pink, PINK5]], ell: ellO5 }
];

const Y_AXIS_W = 60, X_AXIS_H = 42, TITLE_H = 34, PAD_R = 10, Y_TITLE_HALF = 9;

// minor grid lines sit halfway between the major ones
function minorsFor(major, lo, hi) {
  const step = major[1] - major[0];
  const out = [];
  for (let i = -1; i < major.length; i++) {
    const v = (i < 0 ? major[0] - step : major[i]) + step / 2;
    if (v > lo && v < hi) out.push(v);
  }
  return out;
}

function makeAxis(pos, lo, hi, major, labels, title, titlePad) {
  const minor = minorsFor(major, lo, hi);
  const isMajor = c => c.tick && major.some(m => Math.abs(m - c.tick.value) < 1e-9);
  return {
    type: 'linear', position: pos, min: lo, max: hi,
    afterBuildTicks: s => { s.ticks = major.concat(minor).sort((a, b) => a - b).map(v => ({ value: v })); },
    afterFit: s => { if (pos === 'left') s.width = Y_AXIS_W; else s.height = X_AXIS_H; },
    grid: {
      color: c => isMajor(c) ? '#EBEBEB' : '#F2F2F2',
      lineWidth: c => isMajor(c) ? 1.2 : 0.7,
      tickColor: c => isMajor(c) ? '#333333' : 'rgba(0,0,0,0)',
      tickLength: 4, tickWidth: 1
    },
    border: { display: false },
    ticks: {
      autoSkip: false, maxRotation: 0, padding: 2, color: '#4D4D4D',
      font: { family: FONT, size: 12 },
      callback: v => { const i = major.findIndex(m => Math.abs(m - v) < 1e-9); return i < 0 ? '' : labels[i]; }
    },
    title: {
      display: true, text: title, color: '#000',
      font: { family: FONT, size: 15 },
      padding: titlePad
    }
  };
}

// stat_ellipse style outlines, drawn over the points
const ellipsePlugin = {
  id: 'ellipses',
  afterDatasetsDraw(chart) {
    const { ctx, scales: { x, y } } = chart;
    ctx.save();
    ctx.lineWidth = 1.6;
    chart.data.datasets.forEach(ds => {
      const [cx, cy, hx, hy, r] = ds.ellipse;
      const s = Math.sqrt(1 - r * r);
      ctx.strokeStyle = ds.backgroundColor;
      ctx.beginPath();
      for (let k = 0; k <= 120; k++) {
        const t = k / 120 * Math.PI * 2;
        const px = x.getPixelForValue(cx + hx * Math.cos(t));
        const py = y.getPixelForValue(cy + hy * (r * Math.cos(t) + s * Math.sin(t)));
        if (k === 0) ctx.moveTo(px, py); else ctx.lineTo(px, py);
      }
      ctx.closePath();
      ctx.stroke();
    });
    ctx.restore();
  }
};

const framePlugin = {
  id: 'frame',
  afterDraw(chart) {
    const { ctx, chartArea: a } = chart;
    ctx.save();
    ctx.strokeStyle = '#333333';
    ctx.lineWidth = 1;
    ctx.strokeRect(Math.round(a.left) + 0.5, Math.round(a.top) + 0.5, Math.round(a.right - a.left) - 1, Math.round(a.bottom - a.top) - 1);
    ctx.restore();
  }
};

panels.forEach(p => {
  const [L, T, R, B] = p.box;
  const left = L - Y_AXIS_W;
  const cv = document.createElement('canvas');
  cv.width = R - L + Y_AXIS_W + PAD_R;
  cv.height = B - T + TITLE_H + X_AXIS_H;
  cv.style.left = left + 'px';
  cv.style.top = (T - TITLE_H) + 'px';
  document.body.appendChild(cv);

  new Chart(cv, {
    type: 'scatter',
    data: {
      datasets: p.sets.map(([pts, color], i) => ({
        data: pts.map(([x, y]) => ({ x, y })),
        backgroundColor: color,
        borderWidth: 0,
        pointRadius: 1.1,
        ellipse: p.ell[i]
      }))
    },
    options: {
      responsive: false,
      animation: false,
      devicePixelRatio: 1,
      layout: { padding: { left: 0, top: 0, right: PAD_R, bottom: 0 } },
      scales: {
        x: makeAxis('bottom', p.rng[0], p.rng[1], p.xt[0], p.xt[1], 'tSNE-1', { top: 0, bottom: 4 }),
        y: makeAxis('left', p.rng[2], p.rng[3], p.yt[0], p.yt[1], 'tSNE-2', { top: p.yTitle - left - Y_TITLE_HALF, bottom: 0 })
      },
      plugins: {
        legend: { display: false },
        tooltip: { enabled: false },
        title: {
          display: true, text: p.title, align: 'start', fullSize: false, color: '#000',
          font: { family: FONT, size: 18, weight: 'normal', lineHeight: 1.2 },
          padding: { top: 6, bottom: 6.4 }
        }
      }
    },
    plugins: [ellipsePlugin, framePlugin]
  });
});
</script>
</body>
</html>
